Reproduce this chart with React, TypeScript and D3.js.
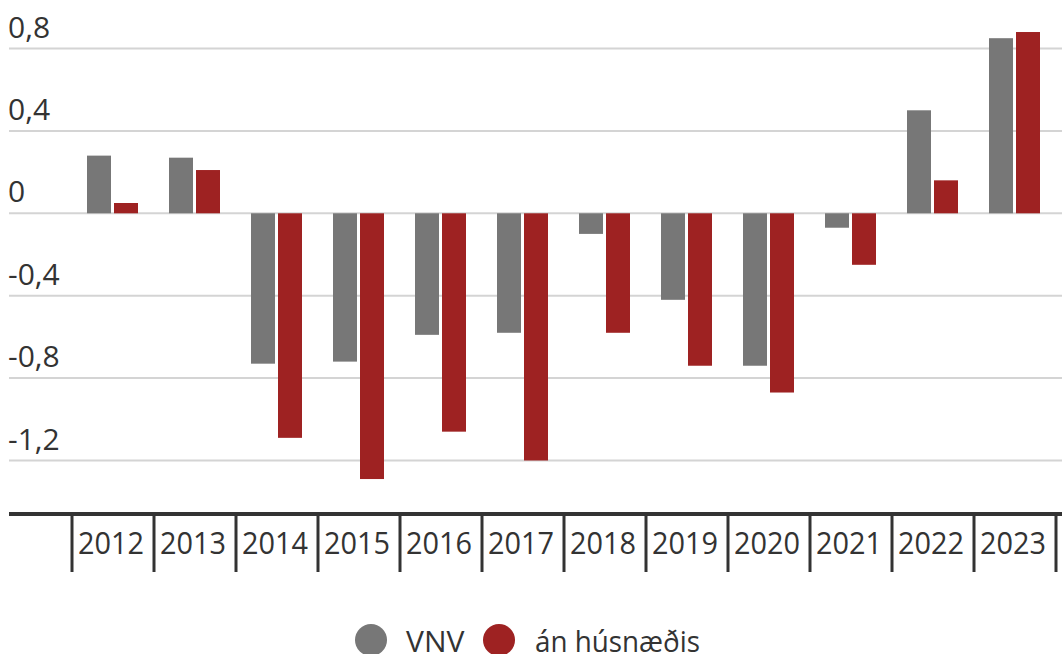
import React from "react";
import * as d3 from "d3";

const years = ["2012","2013","2014","2015","2016","2017","2018","2019","2020","2021","2022","2023"];
const vnv = [0.28, 0.27, -0.73, -0.72, -0.59, -0.58, -0.10, -0.42, -0.74, -0.07, 0.50, 0.85];
const anHusnaedis = [0.05, 0.21, -1.09, -1.29, -1.06, -1.20, -0.58, -0.74, -0.87, -0.25, 0.16, 0.88];
const seriesNames = ["VNV", "án húsnæðis"];
const seriesColors = ["#777777", "#9e2222"];
const yTicks = [0.8, 0.4, 0, -0.4, -0.8, -1.2];

const W = 1062, H = 654;
const FONT = "'Open Sans', 'Noto Sans', sans-serif";

export default function App() {
  const x = d3.scaleBand<string>().domain(years).range([72, 1056]).paddingInner(0).paddingOuter(0);
  const sub = d3.scaleBand<string>().domain(seriesNames).range([15, 66]).paddingInner(3 / 27).paddingOuter(0);
  const y = d3.scaleLinear().domain([0.8, -1.2]).range([48.5, 460.5]);
  const fmt = (v: number) => (v === 0 ? "0" : d3.format(".1f")(v).replace(".", ",").replace("−", "-"));
  const data = [vnv, anHusnaedis];
  const tickXs = [...years.map((yr) => x(yr)!), 1056];

  return (
    <svg width={W} height={H} style={{ position: "absolute", left: 0, top: 0, background: "#fff" }}>
      {yTicks.map((t) => (
        <g key={t}>
          <line x1={9} x2={W} y1={y(t)} y2={y(t)} stroke="#d4d4d4" strokeWidth={2} />
          <text x={8} y={y(t) - 11} fontFamily={FONT} fontSize={30} fill="#333">{fmt(t)}</text>
        </g>
      ))}
      {data.map((vals, si) =>
        vals.map((v, i) => {
          const bx = x(years[i])! + sub(seriesNames[si])!;
          const y0 = y(0), y1 = y(v);
          return (
            <rect key={si + "-" + i} x={bx} width={sub.bandwidth()} y={Math.min(y0, y1)} height={Math.abs(y1 - y0)} fill={seriesColors[si]} />
          );
        })
      )}
      <line x1={9} x2={W} y1={514} y2={514} stroke="#333" strokeWidth={4} />
      {tickXs.map((tx, i) => (
        <line key={i} x1={tx} x2={tx} y1={514} y2={572} stroke="#333" strokeWidth={3} />
      ))}
      {years.map((yr) => (
        <text key={yr} x={x(yr)! + x.bandwidth() / 2 - 2} y={554} textAnchor="middle" fontFamily={FONT} fontSize={31} fill="#333" textLength={66} lengthAdjust="spacingAndGlyphs">{yr}</text>
      ))}
      <circle cx={371} cy={640} r={16} fill={seriesColors[0]} />
      <text x={406} y={652} fontFamily={FONT} fontSize={30} fill="#333">{seriesNames[0]}</text>
      <circle cx={499} cy={640} r={16} fill={seriesColors[1]} />
      <text x={535} y={652} fontFamily={FONT} fontSize={30} fill="#333" textLength={165} lengthAdjust="spacingAndGlyphs">{seriesNames[1]}</text>
    </svg>
  );
}
